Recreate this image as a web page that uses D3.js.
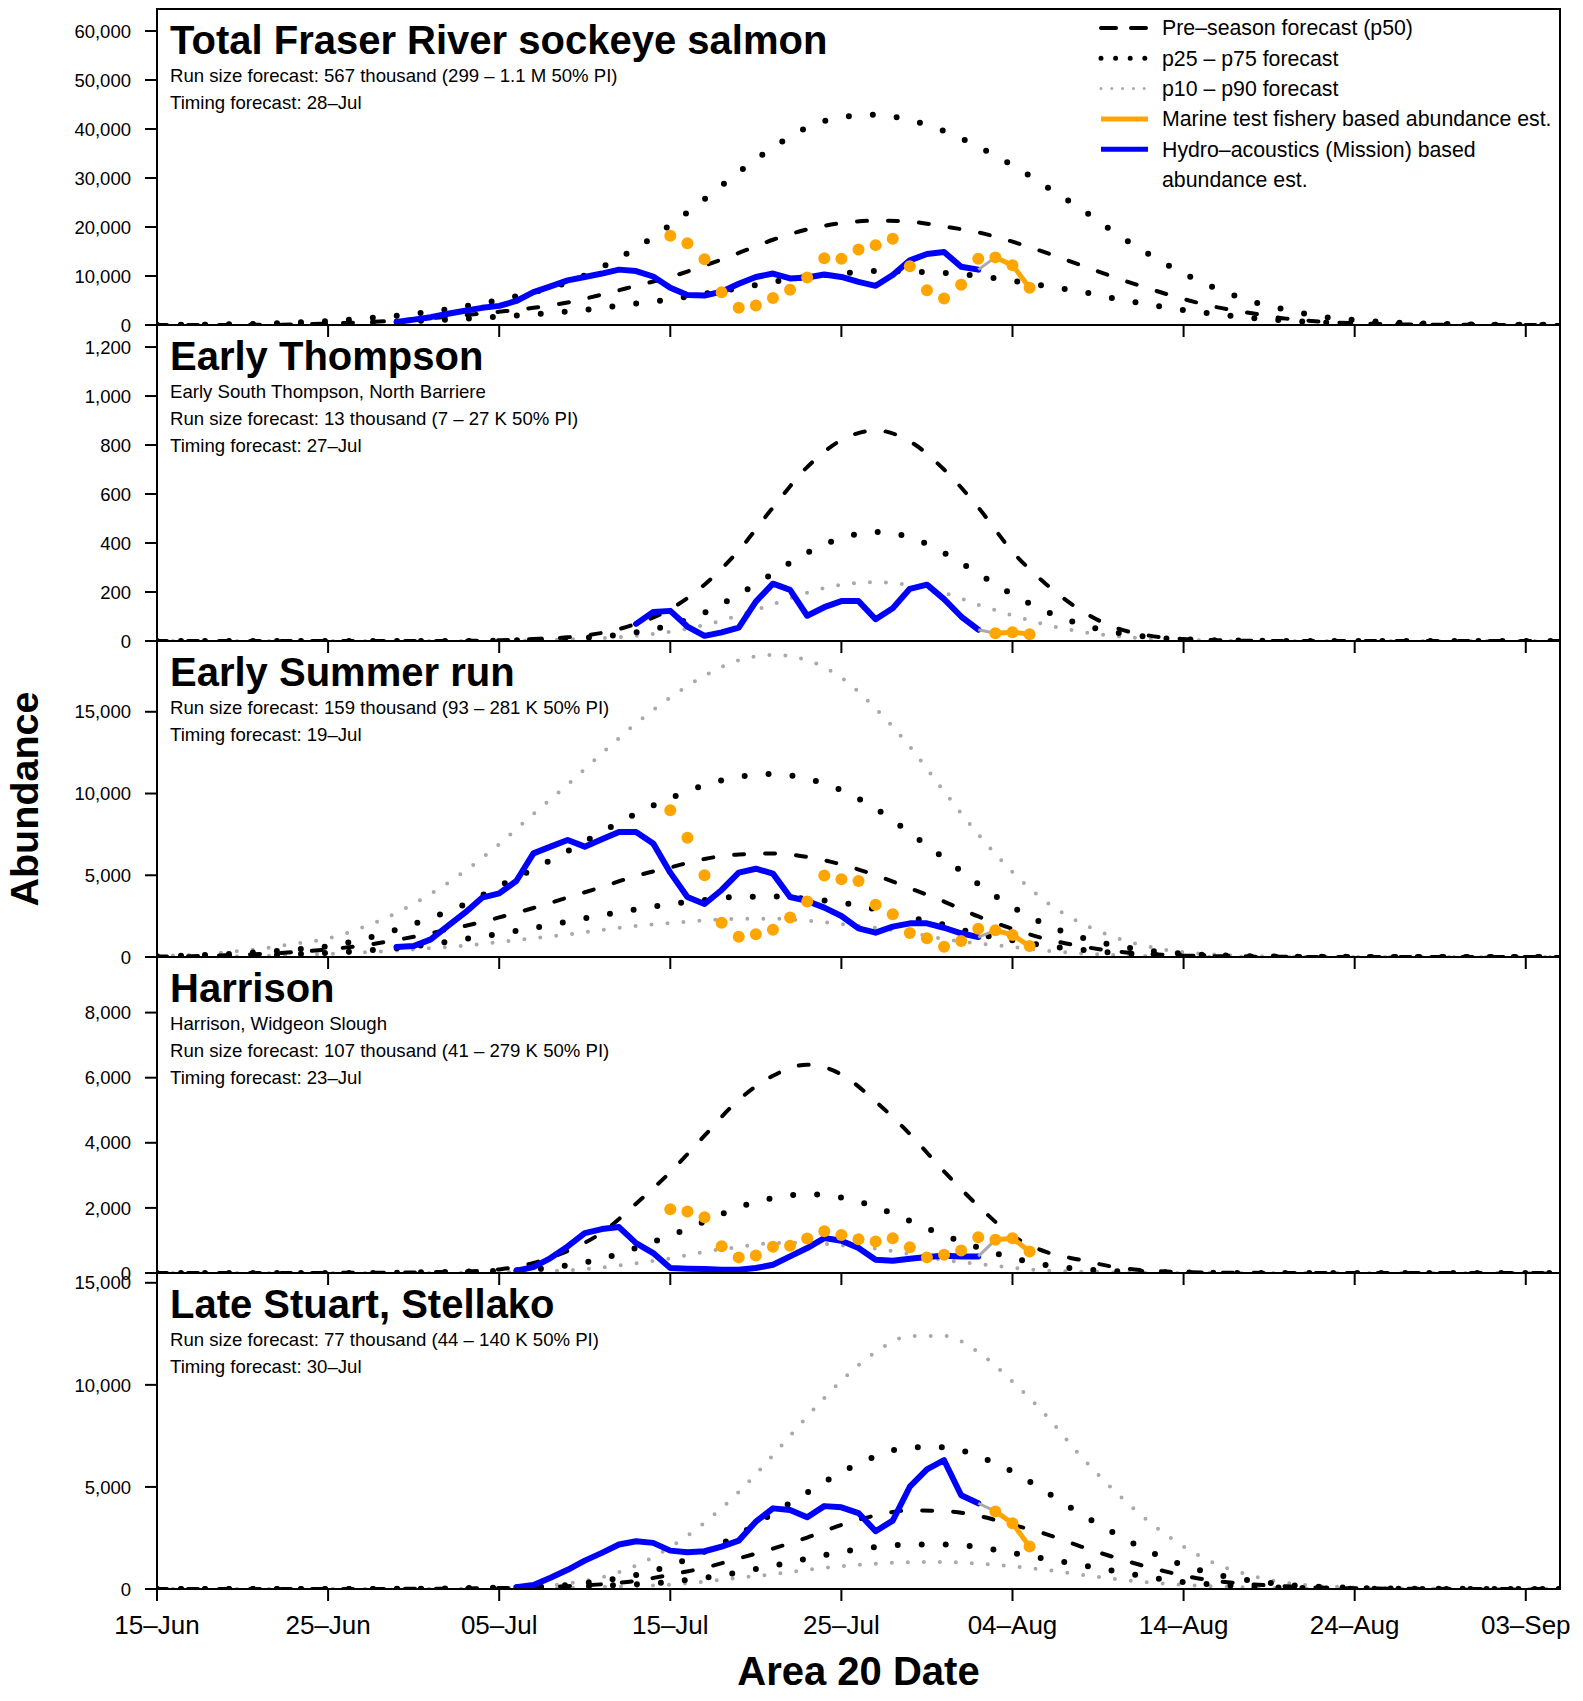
<!DOCTYPE html>
<html>
<head>
<meta charset="utf-8">
<script src="https://cdn.jsdelivr.net/npm/d3@7"></script>
<style>
  body { margin: 0; background: #fff; }
  svg { display: block; }
  text { font-family: "Liberation Sans", Arial, Helvetica, sans-serif; fill: #000; }
</style>
</head>
<body>
<div id="chart"></div>
<script>
// ---- data ----------------------------------------------------------------
// x axis
const xStart = "2023-06-15";
const xEnd = "2023-09-05";
const xTickDates = ["2023-06-15", "2023-06-25", "2023-07-05", "2023-07-15", "2023-07-25",
                    "2023-08-04", "2023-08-14", "2023-08-24", "2023-09-03"];

// pre-season forecast curves: one value every 2 days from Jun 15 to Sep 5
const forecastStart = "2023-06-15";
const forecastStep = 2;

// observed series start dates (one value per day after that)
const marineLineFrom = "2023-08-03";

// Total Fraser River sockeye salmon
const totalTicks = [0, 10000, 20000, 30000, 40000, 50000, 60000];
const totalP50 = [5,10,20,40,100,300,550,900,1400,2000,2700,3500,4600,6200,8000,9800,12100,14700,17400,19500,20800,21300,21100,20100,18900,17000,14700,12200,9700,7400,5300,3600,2400,1300,700,350,150,80,40,20,10,5];
const totalP75 = [20,50,120,250,500,800,1300,1900,2700,3800,5100,6700,8700,11800,15700,20400,25700,31200,36200,40300,42400,42900,41800,39600,36400,32600,28200,23700,18800,14400,10500,7300,4800,3100,1750,1000,550,300,150,80,40,20];
const totalP25 = [10,20,50,100,200,350,500,700,950,1280,1720,2200,2750,3500,4400,5250,6400,7500,8800,9800,10500,11000,10900,10650,10000,9000,7950,6800,5400,4150,3050,2180,1400,900,550,300,150,80,40,20,10,5];
const totalHydroStart = "2023-06-29";
const totalHydro = [600,1100,1600,2300,2900,3500,3900,4900,6700,7900,9100,9800,10500,11300,11000,9900,7600,6100,6000,6800,8400,9800,10500,9500,9700,10300,9800,8800,8000,10200,13200,14500,14900,11900,11300];
const totalMarineStart = "2023-07-15";
const totalMarine = [18200,16700,13400,6700,3500,4000,5500,7200,9700,13600,13500,15400,16300,17600,12000,7100,5400,8200,13500,13800,12200,7600];

// Early Thompson
const thompsonTicks = [0, 200, 400, 600, 800, 1000, 1200];
const thompsonP50 = [0,0,0,0,0,0,0,0,0,1,3,8,15,33,70,130,230,370,545,710,820,860,815,700,545,365,230,125,55,22,8,3,1,0,0,0,0,0,0,0,0,0];
const thompsonP25 = [0,0,0,0,0,0,0,0,0,0,2,5,9,18,35,65,116,190,275,360,420,445,423,360,275,190,120,68,35,16,7,3,1,0,0,0,0,0,0,0,0,0];
const thompsonP10 = [0,0,0,0,0,0,0,0,0,0,0,3,6,12,21,38,65,105,150,197,230,240,228,197,148,105,66,38,20,10,4,2,0,0,0,0,0,0,0,0,0,0];
const thompsonHydroStart = "2023-07-13";
const thompsonHydro = [70,118,123,59,21,35,55,161,234,209,103,138,163,163,89,134,213,230,171,100,46];
const thompsonMarineStart = "2023-08-03";
const thompsonMarine = [32,36,28];

// Early Summer run
const summerTicks = [0, 5000, 10000, 15000];
const summerP50 = [25,50,100,180,300,470,700,1040,1450,1900,2420,3000,3640,4280,4960,5480,6000,6270,6330,6120,5660,5000,4210,3390,2480,1720,1090,660,350,180,90,45,20,10,5,3,2,1,0,0,0,0];
const summerP75 = [50,100,180,300,450,650,1080,1670,2400,3220,4340,5370,6480,7650,8770,9720,10510,11020,11190,10900,10200,9080,7600,6040,4470,3060,1960,1200,700,390,200,100,50,25,12,8,4,2,1,0,0,0];
const summerP25 = [15,30,60,100,160,250,380,530,780,1100,1420,1780,2160,2560,2920,3240,3490,3680,3700,3560,3320,2920,2430,1970,1400,1020,680,440,260,150,80,40,20,10,5,3,1,0,0,0,0,0];
const summerP90 = [60,130,280,500,800,1130,1800,2700,3860,5260,6900,8750,10550,12450,14290,15870,17200,18150,18480,18150,17090,15200,12870,10130,7500,5200,3350,2080,1200,620,300,140,60,25,12,5,2,1,0,0,0,0];
const summerP10 = [10,20,40,70,120,190,280,400,540,700,920,1150,1380,1650,1900,2080,2240,2340,2345,2230,2020,1790,1480,1100,820,620,380,220,120,60,30,15,8,5,2,1,0,0,0,0,0,0];
const summerHydroStart = "2023-06-29";
const summerHydro = [610,670,1080,1900,2710,3630,3890,4650,6340,6750,7160,6750,7200,7650,7650,6950,5160,3670,3240,4100,5160,5400,5100,3670,3430,3020,2510,1750,1490,1860,2060,2060,1790,1450,1220];
const summerMarineStart = "2023-07-15";
const summerMarine = [8970,7300,5000,2100,1240,1390,1670,2410,3390,4980,4750,4650,3200,2610,1470,1140,630,980,1730,1630,1350,670];

// Harrison
const harrisonTicks = [0, 2000, 4000, 6000, 8000];
const harrisonP50 = [0,0,0,0,0,3,6,12,25,45,110,310,680,1240,2130,3100,4220,5320,6060,6400,6100,5270,4270,3120,2060,1150,640,400,180,70,30,12,5,2,0,0,0,0,0,0,0,0];
const harrisonP25 = [0,0,0,0,0,0,0,10,25,45,70,110,240,440,770,1150,1580,2020,2300,2420,2320,2030,1600,1160,780,460,240,120,60,30,15,6,2,0,0,0,0,0,0,0,0,0];
const harrisonP10 = [0,0,0,0,0,0,0,0,0,10,25,45,85,170,300,450,650,800,920,930,850,750,580,400,280,160,75,40,18,8,3,0,0,0,0,0,0,0,0,0,0,0];
const harrisonHydroStart = "2023-07-06";
const harrisonHydro = [70,182,459,817,1227,1350,1411,919,612,152,131,121,100,100,152,254,510,766,1073,991,766,408,377,438,489,530,510,510];
const harrisonMarineStart = "2023-07-15";
const harrisonMarine = [1960,1890,1710,820,480,540,810,840,1060,1280,1170,1040,970,1070,790,480,560,690,1100,1020,1070,660];

// Late Stuart, Stellako
const stuartTicks = [0, 5000, 10000, 15000];
const stuartP50 = [0,0,0,0,0,0,0,5,12,25,45,80,140,230,400,700,1040,1500,1980,2520,3140,3600,3850,3820,3580,3150,2680,2080,1540,1060,660,380,230,130,70,35,15,8,5,2,0,0];
const stuartP75 = [0,0,0,0,0,0,0,8,20,40,70,100,200,400,690,1150,1830,2660,3700,4720,5720,6500,6940,6950,6500,5750,4740,3670,2720,1840,1160,700,410,210,110,55,25,12,8,4,2,0];
const stuartP25 = [0,0,0,0,0,0,0,0,0,15,40,70,110,160,230,350,550,820,1140,1490,1820,2050,2180,2180,2060,1760,1470,1170,870,580,340,210,120,65,30,15,8,5,2,0,0,0];
const stuartP90 = [0,0,0,0,0,0,0,0,0,15,40,100,270,570,1150,2050,3250,4750,6550,8450,10200,11600,12390,12400,11600,10160,8470,6500,4780,3290,2080,1190,650,300,150,70,30,12,8,3,0,0];
const stuartP10 = [0,0,0,0,0,0,0,0,0,0,15,40,60,100,150,210,360,546,720,940,1110,1240,1315,1320,1240,1110,930,700,490,320,200,120,70,35,18,8,3,0,0,0,0,0];
const stuartHydroStart = "2023-07-06";
const stuartHydro = [90,200,550,940,1390,1770,2180,2340,2260,1880,1800,1850,2080,2370,3300,3950,3870,3510,4060,4000,3720,2830,3350,5010,5860,6310,4590,4200];
const stuartMarineStart = "2023-08-03";
const stuartMarine = [3800,3220,2080];

// legend
const legendLabels = ["Pre\u2013season forecast (p50)", "p25 \u2013 p75 forecast", "p10 \u2013 p90 forecast",
                      "Marine test fishery based abundance est.", "Hydro\u2013acoustics (Mission) based"];
const legendExtra = "abundance est.";

// panels
const panels = [
  { title: "Total Fraser River sockeye salmon",
    notes: ["Run size forecast: 567 thousand (299 \u2013 1.1 M 50% PI)", "Timing forecast: 28\u2013Jul"],
    ymax: 64490, ticks: totalTicks,
    p50: totalP50, inner: [totalP25, totalP75], outer: [],
    hydro: totalHydro, hydroStart: totalHydroStart, marine: totalMarine, marineStart: totalMarineStart },
  { title: "Early Thompson",
    notes: ["Early South Thompson, North Barriere", "Run size forecast: 13 thousand (7 \u2013 27 K 50% PI)", "Timing forecast: 27\u2013Jul"],
    ymax: 1290, ticks: thompsonTicks,
    p50: thompsonP50, inner: [thompsonP25], outer: [thompsonP10],
    hydro: thompsonHydro, hydroStart: thompsonHydroStart, marine: thompsonMarine, marineStart: thompsonMarineStart },
  { title: "Early Summer run",
    notes: ["Run size forecast: 159 thousand (93 \u2013 281 K 50% PI)", "Timing forecast: 19\u2013Jul"],
    ymax: 19330, ticks: summerTicks,
    p50: summerP50, inner: [summerP25, summerP75], outer: [summerP10, summerP90],
    hydro: summerHydro, hydroStart: summerHydroStart, marine: summerMarine, marineStart: summerMarineStart },
  { title: "Harrison",
    notes: ["Harrison, Widgeon Slough", "Run size forecast: 107 thousand (41 \u2013 279 K 50% PI)", "Timing forecast: 23\u2013Jul"],
    ymax: 9708, ticks: harrisonTicks,
    p50: harrisonP50, inner: [harrisonP25], outer: [harrisonP10],
    hydro: harrisonHydro, hydroStart: harrisonHydroStart, marine: harrisonMarine, marineStart: harrisonMarineStart },
  { title: "Late Stuart, Stellako",
    notes: ["Run size forecast: 77 thousand (44 \u2013 140 K 50% PI)", "Timing forecast: 30\u2013Jul"],
    ymax: 15480, ticks: stuartTicks,
    p50: stuartP50, inner: [stuartP25, stuartP75], outer: [stuartP10, stuartP90],
    hydro: stuartHydro, hydroStart: stuartHydroStart, marine: stuartMarine, marineStart: stuartMarineStart }
];

// ---- drawing -------------------------------------------------------------
const W = 1583, H = 1701;
const plotL = 157, plotR = 1560, plotT = 9, panelH = 316;
const BLUE = '#0000ff', ORANGE = '#ffa500', GREY = '#a9a9a9';

const parseDate = d3.timeParse('%Y-%m-%d');
const fmtTick = d3.timeFormat('%d\u2013%b');
const fmtNum = d3.format(',');

const svg = d3.select('#chart')
  .append('svg')
  .attr('width', W)
  .attr('height', H);

const x = d3.scaleTime()
  .domain([parseDate(xStart), parseDate(xEnd)])
  .range([plotL, plotR]);

// turn an array of values into {date, v} points
const toPoints = (vals, start, step) =>
  vals.map((v, i) => ({ date: d3.timeDay.offset(parseDate(start), i * step), v: v }));

panels.forEach((p, k) => {
  const top = plotT + k * panelH;
  const bottom = top + panelH;
  const y = d3.scaleLinear().domain([0, p.ymax]).range([bottom, top]);

  svg.append('clipPath').attr('id', 'clip' + k)
    .append('rect')
    .attr('x', plotL).attr('y', top)
    .attr('width', plotR - plotL).attr('height', panelH);

  const plot = svg.append('g').attr('clip-path', `url(#clip${k})`);

  const smooth = d3.line().x(d => x(d.date)).y(d => y(d.v)).curve(d3.curveMonotoneX);
  const straight = d3.line().x(d => x(d.date)).y(d => y(d.v));

  // p10 - p90
  p.outer.forEach(s => {
    plot.append('path')
      .attr('d', smooth(toPoints(s, forecastStart, forecastStep)))
      .attr('fill', 'none')
      .attr('stroke', GREY)
      .attr('stroke-width', 4)
      .attr('stroke-linecap', 'round')
      .attr('stroke-dasharray', '0 16');
  });

  // p25 - p75
  p.inner.forEach(s => {
    plot.append('path')
      .attr('d', smooth(toPoints(s, forecastStart, forecastStep)))
      .attr('fill', 'none')
      .attr('stroke', '#000')
      .attr('stroke-width', 6)
      .attr('stroke-linecap', 'round')
      .attr('stroke-dasharray', '0 24');
  });

  // p50
  plot.append('path')
    .attr('d', smooth(toPoints(p.p50, forecastStart, forecastStep)))
    .attr('fill', 'none')
    .attr('stroke', '#000')
    .attr('stroke-width', 4)
    .attr('stroke-linecap', 'round')
    .attr('stroke-dasharray', '10 21');

  // hydro-acoustics
  const hydroPts = toPoints(p.hydro, p.hydroStart, 1);
  plot.append('path')
    .attr('d', straight(hydroPts))
    .attr('fill', 'none')
    .attr('stroke', BLUE)
    .attr('stroke-width', 6)
    .attr('stroke-linejoin', 'round')
    .attr('stroke-linecap', 'round');

  // marine test fishery
  const marinePts = toPoints(p.marine, p.marineStart, 1);
  const linePts = marinePts.filter(d => d.date >= parseDate(marineLineFrom));

  plot.append('path')
    .attr('d', straight([hydroPts[hydroPts.length - 1], linePts[0]]))
    .attr('fill', 'none')
    .attr('stroke', GREY)
    .attr('stroke-width', 3);

  plot.append('path')
    .attr('d', straight(linePts))
    .attr('fill', 'none')
    .attr('stroke', ORANGE)
    .attr('stroke-width', 5)
    .attr('stroke-linejoin', 'round');

  plot.selectAll('circle.m')
    .data(marinePts)
    .enter().append('circle')
    .attr('class', 'm')
    .attr('cx', d => x(d.date))
    .attr('cy', d => y(d.v))
    .attr('r', 6)
    .attr('fill', ORANGE);

  // frame
  svg.append('rect')
    .attr('x', plotL).attr('y', top)
    .attr('width', plotR - plotL).attr('height', panelH)
    .attr('fill', 'none')
    .attr('stroke', '#000')
    .attr('stroke-width', 2);

  // y axis
  const yAxis = svg.append('g');
  yAxis.selectAll('line')
    .data(p.ticks)
    .enter().append('line')
    .attr('x1', plotL - 12).attr('x2', plotL)
    .attr('y1', d => y(d)).attr('y2', d => y(d))
    .attr('stroke', '#000').attr('stroke-width', 2);
  yAxis.selectAll('text')
    .data(p.ticks)
    .enter().append('text')
    .attr('x', plotL - 26)
    .attr('y', d => y(d))
    .attr('dy', '0.36em')
    .attr('text-anchor', 'end')
    .style('font-size', '18.5px')
    .text(d => fmtNum(d));

  // x ticks under each panel
  svg.append('g').selectAll('line')
    .data(xTickDates)
    .enter().append('line')
    .attr('x1', d => x(parseDate(d))).attr('x2', d => x(parseDate(d)))
    .attr('y1', bottom).attr('y2', bottom + 12)
    .attr('stroke', '#000').attr('stroke-width', 2);

  // title and notes
  svg.append('text')
    .attr('x', plotL + 13).attr('y', top + 45)
    .style('font-size', '40px').style('font-weight', 'bold')
    .text(p.title);
  p.notes.forEach((n, i) => {
    svg.append('text')
      .attr('x', plotL + 13).attr('y', top + 73 + i * 27)
      .style('font-size', '18.6px')
      .text(n);
  });
});

// x tick labels on bottom panel
const lastBottom = plotT + panels.length * panelH;
svg.append('g').selectAll('text')
  .data(xTickDates)
  .enter().append('text')
  .attr('x', d => x(parseDate(d)))
  .attr('y', lastBottom + 45)
  .attr('text-anchor', 'middle')
  .style('font-size', '26px')
  .text(d => fmtTick(parseDate(d)));

// axis titles
svg.append('text')
  .attr('x', (plotL + plotR) / 2).attr('y', 1685)
  .attr('text-anchor', 'middle')
  .style('font-size', '40px').style('font-weight', 'bold')
  .text('Area 20 Date');

svg.append('text')
  .attr('transform', `translate(38,${(plotT + lastBottom) / 2}) rotate(-90)`)
  .attr('text-anchor', 'middle')
  .style('font-size', '39.5px').style('font-weight', 'bold')
  .text('Abundance');

// legend
const lgX1 = 1101, lgX2 = 1148, lgTx = 1162, lgY = 28, lgDy = 30.3;
const legend = svg.append('g');
const lgStyles = [
  { stroke: '#000', w: 4, dash: '15 15', cap: 'round' },
  { stroke: '#000', w: 5, dash: '0 14.6', cap: 'round' },
  { stroke: GREY, w: 3, dash: '0 10.8', cap: 'round' },
  { stroke: ORANGE, w: 5, dash: null, cap: 'butt' },
  { stroke: BLUE, w: 5, dash: null, cap: 'butt' }
];
legendLabels.forEach((lab, i) => {
  const yy = lgY + i * lgDy;
  const s = lgStyles[i];
  legend.append('line')
    .attr('x1', lgX1).attr('x2', lgX2)
    .attr('y1', yy).attr('y2', yy)
    .attr('stroke', s.stroke)
    .attr('stroke-width', s.w)
    .attr('stroke-linecap', s.cap)
    .attr('stroke-dasharray', s.dash);
  legend.append('text')
    .attr('x', lgTx).attr('y', yy)
    .attr('dy', '0.35em')
    .style('font-size', '21.3px')
    .text(lab);
});
legend.append('text')
  .attr('x', lgTx).attr('y', lgY + legendLabels.length * lgDy)
  .attr('dy', '0.35em')
  .style('font-size', '21.3px')
  .text(legendExtra);
</script>
</body>
</html>
